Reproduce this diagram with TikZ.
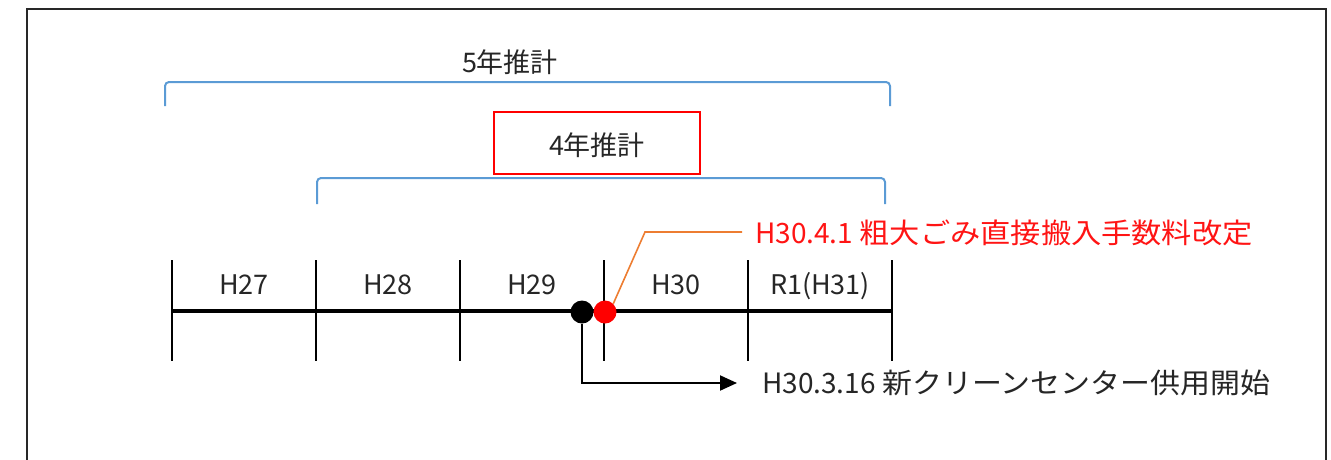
\documentclass[tikz,border=0pt]{standalone}
\usepackage{fontspec}
\usetikzlibrary{arrows.meta}
\setmainfont{Noto Sans CJK JP}
\newfontfamily\jp{Noto Sans CJK JP}
\newfontfamily\jpwide[FakeStretch=1.08]{Noto Sans CJK JP}
\newfontfamily\jpslight[FakeStretch=1.07]{Noto Sans CJK JP}
\definecolor{frame}{RGB}{40,40,40}
\definecolor{braceblue}{RGB}{91,155,213}
\definecolor{oneorange}{RGB}{237,125,49}
\definecolor{redtxt}{RGB}{255,20,20}
\tikzset{
  txt/.style={inner sep=0pt, font=\jp\fontsize{27}{32}\selectfont, text=black!85},
  bracket/.style={draw=braceblue, line width=2pt, rounded corners=4pt},
  tick/.style={line width=2.6pt},
  dot/.style={circle, inner sep=0pt, minimum size=23pt},
}
\begin{document}
\begin{tikzpicture}[x=1pt,y=-1pt]
\useasboundingbox (0,0) rectangle (1331,459);
% frame
\draw[frame, line width=2pt] (27,462) -- (27,9) -- (1326,9) -- (1326,462);
% 5-year
\node[txt, anchor=base] (five) at (510,72) {5年推計};
\draw[bracket] (165,106) -- (165,82) -- (890,82) -- (890,106);
% 4-year
\node[draw=red, line width=2pt, minimum width=206pt, minimum height=62pt, inner sep=0pt] (fourbox) at (597,143) {};
\node[txt, anchor=base] (four) at (597,155) {4年推計};
\draw[bracket] (317,204) -- (317,178) -- (885,178) -- (885,204);
% timeline
\draw[line width=3.2pt] (172,311) -- (892,311);
\foreach \x in {172,316,460,604,748,892}{
  \draw[tick] (\x,260) -- (\x,361);
}
\node[txt, anchor=base] (h27) at (244,294) {H27};
\node[txt, anchor=base] (h28) at (388,294) {H28};
\node[txt, anchor=base] (h29) at (532,294) {H29};
\node[txt, anchor=base] (h30) at (676,294) {H30};
\node[txt, anchor=base] (r1) at (820,294) {R1(H31)};
% dots
\node[dot, fill=black] (bd) at (582,312) {};
\node[dot, fill=red] (rd) at (605,312) {};
% red annotation
\coordinate (obend) at (645,232);
\coordinate (oend) at (742,232);
\draw[oneorange, line width=1.6pt] (rd.north east) -- (obend) -- (oend);
\node[anchor=base west, inner sep=0pt, text=redtxt, font=\fontsize{28}{34}\selectfont] (redtext) at (755,243) {H30.4.1 {\jpwide 粗大ごみ直接搬入手数料改定}};
% black annotation
\coordinate (aend) at (737,383);
\draw[line width=2pt, -{Triangle[length=17pt,width=15pt]}] (bd.south) |- (aend);
\node[anchor=base west, inner sep=0pt, text=black!85, font=\fontsize{28}{34}\selectfont] (blacktext) at (762,393) {H30.3.16 {\jpslight 新クリーンセンター供用開始}};
\end{tikzpicture}
\end{document}
